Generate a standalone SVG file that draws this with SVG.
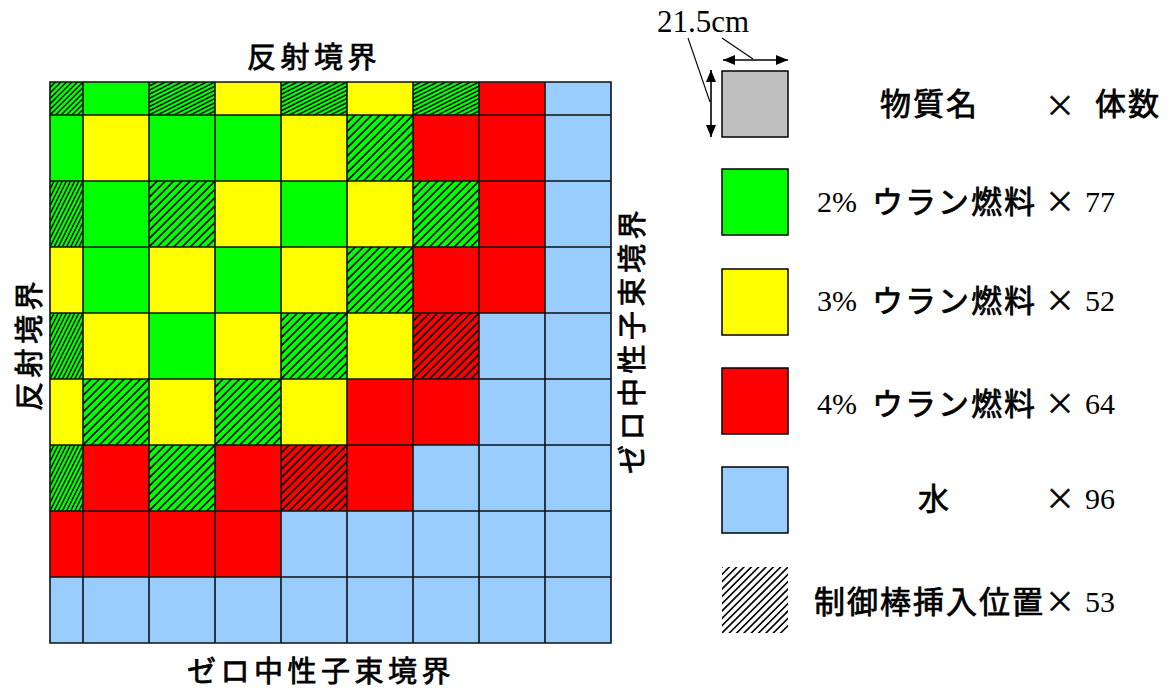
<svg xmlns="http://www.w3.org/2000/svg" width="1169" height="691" viewBox="0 0 1169 691">
<style>
.G{fill:#00ff00}.Y{fill:#ffff00}.R{fill:#ff0000}.B{fill:#99ccff}
.hl{stroke:#000;stroke-width:1.6;fill:none}
.grid{stroke:#111;stroke-width:1.6;fill:none}
.jp{font-family:"Noto Sans CJK JP","Noto Sans",sans-serif;font-weight:400;fill:#000;stroke:#000;stroke-width:0.75px}
.lab{font-size:29px;letter-spacing:4.5px}
.leg{font-size:31px;letter-spacing:2px}
.num{font-family:"Liberation Serif","Times New Roman",serif;font-size:30px;fill:#000}
.x{font-family:"Noto Sans CJK JP","Noto Sans",sans-serif;font-size:30px;font-weight:400;fill:#000;stroke:#000;stroke-width:0.5px;text-anchor:middle}
.box{stroke:#000;stroke-width:1.5}
</style>
<defs>
<pattern id="hFull" patternUnits="userSpaceOnUse" x="83" y="115" width="66" height="66">
<path class="hl" d="M-76,76 L10,-10 M-67.75,76 L18.25,-10 M-59.5,76 L26.5,-10 M-51.25,76 L34.75,-10 M-43,76 L43,-10 M-34.75,76 L51.25,-10 M-26.5,76 L59.5,-10 M-18.25,76 L67.75,-10 M-10,76 L76,-10 M-1.75,76 L84.25,-10 M6.5,76 L92.5,-10 M14.75,76 L100.75,-10 M23,76 L109,-10 M31.25,76 L117.25,-10 M39.5,76 L125.5,-10 M47.75,76 L133.75,-10 M56,76 L142,-10"/>
</pattern>
<pattern id="hCol" patternUnits="userSpaceOnUse" x="50" y="115" width="33" height="66">
<path class="hl" style="stroke-width:1.4" d="M-38,76 L5,-10 M-33.875,76 L9.125,-10 M-29.75,76 L13.25,-10 M-25.625,76 L17.375,-10 M-21.5,76 L21.5,-10 M-17.375,76 L25.625,-10 M-13.25,76 L29.75,-10 M-9.125,76 L33.875,-10 M-5,76 L38,-10 M-0.875,76 L42.125,-10 M3.25,76 L46.25,-10 M7.375,76 L50.375,-10 M11.5,76 L54.5,-10 M15.625,76 L58.625,-10 M19.75,76 L62.75,-10 M23.875,76 L66.875,-10 M28,76 L71,-10"/>
</pattern>
<pattern id="hRow" patternUnits="userSpaceOnUse" x="83" y="82" width="66" height="33">
<path class="hl" style="stroke-width:1.4" d="M-86,43 L20,-10 M-77.75,43 L28.25,-10 M-69.5,43 L36.5,-10 M-61.25,43 L44.75,-10 M-53,43 L53,-10 M-44.75,43 L61.25,-10 M-36.5,43 L69.5,-10 M-28.25,43 L77.75,-10 M-20,43 L86,-10 M-11.75,43 L94.25,-10 M-3.5,43 L102.5,-10 M4.75,43 L110.75,-10 M13,43 L119,-10 M21.25,43 L127.25,-10 M29.5,43 L135.5,-10 M37.75,43 L143.75,-10 M46,43 L152,-10"/>
</pattern>
<pattern id="hCorner" patternUnits="userSpaceOnUse" x="50" y="82" width="33" height="33">
<path class="hl" style="stroke-width:1.3" d="M-43,43 L10,-10 M-37.5,43 L15.5,-10 M-32,43 L21,-10 M-26.5,43 L26.5,-10 M-21,43 L32,-10 M-15.5,43 L37.5,-10 M-10,43 L43,-10 M-4.5,43 L48.5,-10 M1,43 L54,-10 M6.5,43 L59.5,-10 M12,43 L65,-10 M17.5,43 L70.5,-10 M23,43 L76,-10"/>
</pattern>
<pattern id="hLeg" patternUnits="userSpaceOnUse" x="722" y="567" width="66" height="66">
<path class="hl" d="M-76,76 L10,-10 M-68.667,76 L17.333,-10 M-61.333,76 L24.667,-10 M-54,76 L32,-10 M-46.667,76 L39.333,-10 M-39.333,76 L46.667,-10 M-32,76 L54,-10 M-24.667,76 L61.333,-10 M-17.333,76 L68.667,-10 M-10,76 L76,-10 M-2.667,76 L83.333,-10 M4.667,76 L90.667,-10 M12,76 L98,-10 M19.333,76 L105.333,-10 M26.667,76 L112.667,-10 M34,76 L120,-10 M41.333,76 L127.333,-10 M48.667,76 L134.667,-10"/>
</pattern>
<marker id="ah" viewBox="0 0 12 10" refX="12" refY="5" markerWidth="12" markerHeight="10" markerUnits="userSpaceOnUse" orient="auto-start-reverse">
<path d="M0,0 L12,5 L0,10 z" fill="#000"/>
</marker>
</defs>
<rect width="1169" height="691" fill="#fff"/>

<g id="core-map">
<g id="row0">
<rect class="G" x="50" y="82" width="33" height="33"/><rect fill="url(#hCorner)" x="50" y="82" width="33" height="33"/>
<rect class="G" x="83" y="82" width="66" height="33"/>
<rect class="G" x="149" y="82" width="66" height="33"/><rect fill="url(#hRow)" x="149" y="82" width="66" height="33"/>
<rect class="Y" x="215" y="82" width="66" height="33"/>
<rect class="G" x="281" y="82" width="66" height="33"/><rect fill="url(#hRow)" x="281" y="82" width="66" height="33"/>
<rect class="Y" x="347" y="82" width="66" height="33"/>
<rect class="G" x="413" y="82" width="66" height="33"/><rect fill="url(#hRow)" x="413" y="82" width="66" height="33"/>
<rect class="R" x="479" y="82" width="66" height="33"/>
<rect class="B" x="545" y="82" width="66" height="33"/>
</g>
<g id="row1">
<rect class="G" x="50" y="115" width="33" height="66"/>
<rect class="Y" x="83" y="115" width="66" height="66"/>
<rect class="G" x="149" y="115" width="66" height="66"/>
<rect class="G" x="215" y="115" width="66" height="66"/>
<rect class="Y" x="281" y="115" width="66" height="66"/>
<rect class="G" x="347" y="115" width="66" height="66"/><rect fill="url(#hFull)" x="347" y="115" width="66" height="66"/>
<rect class="R" x="413" y="115" width="66" height="66"/>
<rect class="R" x="479" y="115" width="66" height="66"/>
<rect class="B" x="545" y="115" width="66" height="66"/>
</g>
<g id="row2">
<rect class="G" x="50" y="181" width="33" height="66"/><rect fill="url(#hCol)" x="50" y="181" width="33" height="66"/>
<rect class="G" x="83" y="181" width="66" height="66"/>
<rect class="G" x="149" y="181" width="66" height="66"/><rect fill="url(#hFull)" x="149" y="181" width="66" height="66"/>
<rect class="Y" x="215" y="181" width="66" height="66"/>
<rect class="G" x="281" y="181" width="66" height="66"/>
<rect class="Y" x="347" y="181" width="66" height="66"/>
<rect class="G" x="413" y="181" width="66" height="66"/><rect fill="url(#hFull)" x="413" y="181" width="66" height="66"/>
<rect class="R" x="479" y="181" width="66" height="66"/>
<rect class="B" x="545" y="181" width="66" height="66"/>
</g>
<g id="row3">
<rect class="Y" x="50" y="247" width="33" height="66"/>
<rect class="G" x="83" y="247" width="66" height="66"/>
<rect class="Y" x="149" y="247" width="66" height="66"/>
<rect class="G" x="215" y="247" width="66" height="66"/>
<rect class="Y" x="281" y="247" width="66" height="66"/>
<rect class="G" x="347" y="247" width="66" height="66"/><rect fill="url(#hFull)" x="347" y="247" width="66" height="66"/>
<rect class="R" x="413" y="247" width="66" height="66"/>
<rect class="R" x="479" y="247" width="66" height="66"/>
<rect class="B" x="545" y="247" width="66" height="66"/>
</g>
<g id="row4">
<rect class="G" x="50" y="313" width="33" height="66"/><rect fill="url(#hCol)" x="50" y="313" width="33" height="66"/>
<rect class="Y" x="83" y="313" width="66" height="66"/>
<rect class="G" x="149" y="313" width="66" height="66"/>
<rect class="Y" x="215" y="313" width="66" height="66"/>
<rect class="G" x="281" y="313" width="66" height="66"/><rect fill="url(#hFull)" x="281" y="313" width="66" height="66"/>
<rect class="Y" x="347" y="313" width="66" height="66"/>
<rect class="R" x="413" y="313" width="66" height="66"/><rect fill="url(#hFull)" x="413" y="313" width="66" height="66"/>
<rect class="B" x="479" y="313" width="66" height="66"/>
<rect class="B" x="545" y="313" width="66" height="66"/>
</g>
<g id="row5">
<rect class="Y" x="50" y="379" width="33" height="66"/>
<rect class="G" x="83" y="379" width="66" height="66"/><rect fill="url(#hFull)" x="83" y="379" width="66" height="66"/>
<rect class="Y" x="149" y="379" width="66" height="66"/>
<rect class="G" x="215" y="379" width="66" height="66"/><rect fill="url(#hFull)" x="215" y="379" width="66" height="66"/>
<rect class="Y" x="281" y="379" width="66" height="66"/>
<rect class="R" x="347" y="379" width="66" height="66"/>
<rect class="R" x="413" y="379" width="66" height="66"/>
<rect class="B" x="479" y="379" width="66" height="66"/>
<rect class="B" x="545" y="379" width="66" height="66"/>
</g>
<g id="row6">
<rect class="G" x="50" y="445" width="33" height="66"/><rect fill="url(#hCol)" x="50" y="445" width="33" height="66"/>
<rect class="R" x="83" y="445" width="66" height="66"/>
<rect class="G" x="149" y="445" width="66" height="66"/><rect fill="url(#hFull)" x="149" y="445" width="66" height="66"/>
<rect class="R" x="215" y="445" width="66" height="66"/>
<rect class="R" x="281" y="445" width="66" height="66"/><rect fill="url(#hFull)" x="281" y="445" width="66" height="66"/>
<rect class="R" x="347" y="445" width="66" height="66"/>
<rect class="B" x="413" y="445" width="66" height="66"/>
<rect class="B" x="479" y="445" width="66" height="66"/>
<rect class="B" x="545" y="445" width="66" height="66"/>
</g>
<g id="row7">
<rect class="R" x="50" y="511" width="33" height="66"/>
<rect class="R" x="83" y="511" width="66" height="66"/>
<rect class="R" x="149" y="511" width="66" height="66"/>
<rect class="R" x="215" y="511" width="66" height="66"/>
<rect class="B" x="281" y="511" width="330" height="66"/>
</g>
<g id="row8">
<rect class="B" x="50" y="577" width="561" height="66"/>
</g>
<g id="grid-lines">
<path class="grid" d="M50,82 H611 V643 H50 Z M83,82 V643 M149,82 V643 M215,82 V643 M281,82 V643 M347,82 V643 M413,82 V643 M479,82 V643 M545,82 V643 M50,115 H611 M50,181 H611 M50,247 H611 M50,313 H611 M50,379 H611 M50,445 H611 M50,511 H611 M50,577 H611"/>
</g>
</g>

<g id="boundary-labels">
<text id="label-top" class="jp lab" x="247" y="68">反射境界</text>
<text id="label-bottom" class="jp lab" x="187" y="682">ゼロ中性子束境界</text>
<text id="label-left" class="jp lab" transform="translate(40,411) rotate(-90)">反射境界</text>
<text id="label-right" class="jp lab" transform="translate(643,474) rotate(-90)">ゼロ中性子束境界</text>
</g>

<g id="legend-key">
<rect x="722" y="71" width="66" height="66" fill="#c0c0c0" class="box"/>
<text class="num" x="657" y="32" style="font-size:31px">21.5cm</text>
<g id="connectors" stroke="#000" fill="none">
<line x1="723" y1="60" x2="788" y2="60" stroke-width="1.6" marker-start="url(#ah)" marker-end="url(#ah)"/>
<line x1="711" y1="70" x2="711" y2="137" stroke-width="1.6" marker-start="url(#ah)" marker-end="url(#ah)"/>
<line x1="688" y1="38" x2="710" y2="102" stroke-width="1.1"/>
<line x1="722" y1="38" x2="753" y2="59" stroke-width="1.1"/>
</g>
<text class="jp leg" x="880" y="115">物質名</text>
<text class="x" x="1060" y="116">×</text>
<text class="jp leg" x="1095" y="115">体数</text>
</g>

<g id="legend-2pct">
<rect class="G box" x="722" y="169" width="66" height="66"/>
<text class="num" x="817" y="212">2%</text>
<text class="jp leg" x="872" y="213">ウラン燃料</text>
<text class="x" x="1060" y="212">×</text>
<text class="num" x="1085" y="212">77</text>
</g>
<g id="legend-3pct">
<rect class="Y box" x="722" y="269" width="66" height="66"/>
<text class="num" x="817" y="311">3%</text>
<text class="jp leg" x="872" y="312">ウラン燃料</text>
<text class="x" x="1060" y="311">×</text>
<text class="num" x="1085" y="311">52</text>
</g>
<g id="legend-4pct">
<rect class="R box" x="722" y="368" width="66" height="66"/>
<text class="num" x="817" y="414">4%</text>
<text class="jp leg" x="872" y="415">ウラン燃料</text>
<text class="x" x="1060" y="414">×</text>
<text class="num" x="1085" y="414">64</text>
</g>
<g id="legend-water">
<rect class="B box" x="722" y="467" width="66" height="66"/>
<text class="jp leg" x="918" y="510">水</text>
<text class="x" x="1060" y="509">×</text>
<text class="num" x="1085" y="509">96</text>
</g>
<g id="legend-rod">
<rect fill="url(#hLeg)" x="722" y="567" width="66" height="66"/>
<text class="jp leg" x="814" y="613">制御棒挿入位置</text>
<text class="x" x="1060" y="612">×</text>
<text class="num" x="1085" y="612">53</text>
</g>
</svg>
